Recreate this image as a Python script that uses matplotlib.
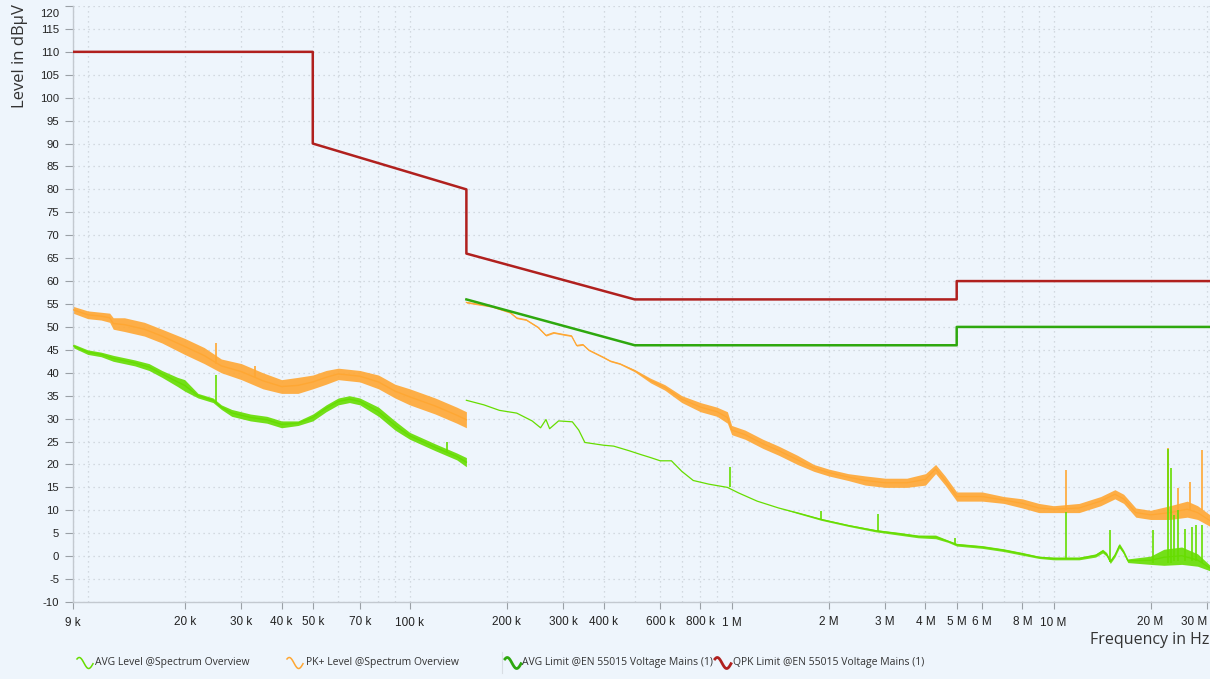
import numpy as np
import matplotlib
matplotlib.use("Agg")
import matplotlib.pyplot as plt
import matplotlib.transforms as mtransforms
from matplotlib.lines import Line2D

# ---------------- data ----------------
# PK+ level, band 1 (9 kHz .. 150 kHz): frequency [Hz], lower / upper edge of noise band [dBuV]
pk1_f  = [9e3, 10e3, 11e3, 11.7e3, 12e3, 13e3, 15e3, 17e3, 20e3, 23e3, 26e3, 30e3, 35e3, 40e3, 45e3,
          50e3, 55e3, 60e3, 70e3, 80e3, 90e3, 100e3, 120e3, 140e3, 150e3]
pk1_lo = [53.0, 51.8, 51.5, 51.0, 49.5, 49.0, 48.0, 46.5, 44.0, 42.0, 40.0, 38.5, 36.5, 35.5, 35.5,
          36.5, 37.5, 38.5, 38.0, 36.5, 34.5, 33.0, 31.0, 29.0, 28.0]
pk1_hi = [54.5, 53.5, 53.2, 53.0, 52.0, 52.0, 51.0, 49.5, 47.5, 45.5, 43.0, 42.0, 40.0, 38.5, 39.0,
          39.5, 40.5, 41.0, 40.5, 39.5, 37.5, 36.5, 34.5, 32.5, 31.5]

# AVG level, band 1
av1_f  = [9e3, 10e3, 11e3, 12e3, 14e3, 15.5e3, 17e3, 19e3, 20e3, 22e3, 24.5e3, 26e3, 28e3, 32e3, 36e3,
          40e3, 45e3, 50e3, 55e3, 60e3, 65e3, 70e3, 80e3, 90e3, 100e3, 120e3, 140e3, 150e3]
av1_lo = [45.5, 44.0, 43.5, 42.5, 41.5, 40.5, 39.0, 37.0, 36.0, 34.5, 33.5, 32.0, 30.5, 29.5, 29.0,
          28.0, 28.5, 29.5, 31.5, 33.0, 33.5, 33.0, 30.5, 27.5, 25.5, 23.0, 21.0, 19.5]
av1_hi = [46.3, 45.0, 44.5, 43.8, 42.8, 42.0, 40.5, 39.0, 38.5, 35.5, 34.5, 33.0, 32.0, 31.0, 30.5,
          29.5, 29.5, 31.0, 33.0, 34.5, 35.0, 34.5, 32.5, 29.5, 27.0, 24.5, 22.5, 21.5]

# PK+ level, band 2 (150 kHz .. 30 MHz)
pk2_f  = [150e3, 180e3, 205e3, 215e3, 230e3, 250e3, 265e3, 280e3, 300e3, 318e3, 330e3, 345e3, 360e3,
          400e3, 420e3, 450e3, 500e3, 560e3, 620e3, 700e3, 800e3, 900e3, 970e3, 1.0e6, 1.1e6, 1.25e6,
          1.4e6, 1.6e6, 1.8e6, 2.0e6, 2.3e6, 2.6e6, 3.0e6, 3.5e6, 4.0e6, 4.3e6, 4.6e6, 5.0e6, 6e6,
          7e6, 8e6, 9e6, 10e6, 12e6, 14e6, 15.5e6, 16.5e6, 18e6, 20e6, 23e6, 26e6, 28e6, 30.6e6]
pk2_lo = [55.2, 54.3, 53.0, 51.8, 51.4, 49.8, 48.0, 48.6, 48.2, 47.9, 45.8, 46.0, 44.8,
          43.2, 42.4, 41.8, 40.2, 37.8, 36.2, 33.5, 31.5, 30.5, 29.0, 26.5, 25.5, 23.5,
          22.0, 20.0, 18.5, 17.5, 16.5, 15.5, 15.0, 15.0, 15.5, 18.0, 15.5, 12.0, 12.0,
          11.5, 10.5, 9.5, 9.5, 9.5, 11.0, 12.5, 11.5, 8.5, 8.0, 8.0, 8.5, 8.0, 6.5]
pk2_hi = [55.5, 54.6, 53.3, 52.1, 51.7, 50.1, 48.3, 48.9, 48.5, 48.2, 46.1, 46.3, 45.1,
          43.5, 42.7, 42.1, 40.7, 38.8, 37.4, 35.0, 33.5, 32.5, 31.5, 28.5, 27.5, 25.5,
          24.0, 22.0, 20.0, 19.0, 18.0, 17.5, 17.0, 17.0, 18.0, 20.0, 17.5, 14.0, 14.0,
          13.0, 12.5, 11.5, 11.0, 11.5, 13.0, 14.5, 13.5, 10.5, 10.0, 11.0, 12.0, 11.0, 9.0]

# AVG level, band 2
av2_f  = [150e3, 170e3, 190e3, 215e3, 240e3, 255e3, 265e3, 272e3, 290e3, 320e3, 335e3, 350e3, 400e3,
          430e3, 480e3, 520e3, 560e3, 600e3, 650e3, 700e3, 760e3, 850e3, 970e3, 1.05e6, 1.2e6, 1.4e6,
          1.6e6, 1.9e6, 2.3e6, 2.8e6, 3.3e6, 3.8e6, 4.3e6, 4.7e6, 5.0e6, 6e6, 7e6, 8e6, 9e6, 10e6,
          12e6, 13.5e6, 14.2e6, 14.6e6, 15e6, 15.5e6, 16e6, 16.5e6, 17e6, 20e6, 22e6, 25e6, 28e6,
          30.6e6]
av2_lo = [34.0, 33.0, 31.8, 31.2, 29.5, 28.0, 29.8, 27.8, 29.5, 29.3, 27.5, 24.8, 24.2,
          24.0, 23.0, 22.2, 21.5, 20.8, 20.8, 18.5, 16.5, 15.7, 15.0, 13.8, 12.0, 10.5,
          9.3, 7.8, 6.5, 5.3, 4.6, 4.0, 3.8, 3.0, 2.2, 1.7, 1.0, 0.2, -0.5, -0.8,
          -0.8, -0.2, 0.7, 0.0, -1.6, -0.2, 1.8, 0.5, -1.4, -1.8, -2.0, -1.8, -2.2, -3.2]
av2_hi = [34.0, 33.0, 31.8, 31.2, 29.5, 28.0, 29.8, 27.8, 29.5, 29.3, 27.5, 24.8, 24.2,
          24.0, 23.0, 22.2, 21.5, 20.8, 20.8, 18.5, 16.5, 15.7, 15.0, 13.8, 12.0, 10.5,
          9.6, 8.2, 6.9, 5.8, 5.2, 4.6, 4.6, 3.5, 2.8, 2.3, 1.6, 0.8, 0.0, -0.2,
          -0.2, 0.5, 1.5, 0.8, -0.8, 0.6, 2.8, 1.3, -0.6, 0.0, 1.5, 2.0, 0.5, -2.0]

# narrow spikes: frequency [Hz], base, top [dBuV]
av_spk_f    = [25e3, 131e3, 0.99e6, 1.9e6, 2.84e6, 4.95e6, 10.9e6, 15.0e6, 20.4e6, 22.6e6, 23.2e6,
               23.7e6, 24.4e6, 25.5e6, 27.0e6, 27.7e6, 28.8e6]
av_spk_base = [33.5, 22.5, 15.0, 7.8, 5.5, 2.5, -0.5, -1.3, -1.5, -1.5, -1.5, -1.0, -1.0, -1.0,
               -1.0, -1.0, -1.5]
av_spk_top  = [39.5, 25.0, 19.4, 9.9, 9.3, 4.0, 9.6, 5.7, 5.7, 23.3, 19.3, 9.0, 10.1, 6.0,
               6.4, 6.8, 6.8]
pk_spk_f    = [25e3, 33e3, 10.9e6, 22.6e6, 24.4e6, 26.5e6, 28.8e6]
pk_spk_base = [42.0, 39.0, 10.0, 10.0, 10.0, 10.0, 10.0]
pk_spk_top  = [46.5, 41.5, 18.8, 23.6, 14.9, 16.2, 23.2]

# limit lines (EN 55015, voltage mains)
qpk_f = [9e3, 50e3, 50e3, 150e3, 150e3, 500e3, 5e6, 5e6, 30.6e6]
qpk_v = [110, 110, 90, 80, 66, 56, 56, 60, 60]
avl_f = [150e3, 500e3, 5e6, 5e6, 30.6e6]
avl_v = [56, 46, 46, 50, 50]

xtick_vals = [9e3, 20e3, 30e3, 40e3, 50e3, 70e3, 100e3, 200e3, 300e3, 400e3, 600e3, 800e3, 1e6,
              2e6, 3e6, 4e6, 5e6, 6e6, 8e6, 10e6, 20e6, 30e6]
xtick_labels = ["9 k", "20 k", "30 k", "40 k", "50 k", "70 k", "100 k", "200 k", "300 k", "400 k",
                "600 k", "800 k", "1 M", "2 M", "3 M", "4 M", "5 M", "6 M", "8 M", "10 M",
                "20 M", "30 M"]
ytick_vals = list(range(-10, 121, 5))

legend_labels = ["AVG Level @Spectrum Overview", "PK+ Level @Spectrum Overview",
                 "AVG Limit @EN 55015 Voltage Mains (1)", "QPK Limit @EN 55015 Voltage Mains (1)"]

# ---------------- style ----------------
BG = "#eef5fc"
C_AVG = "#66dd00"
C_PK = "#ffa733"
C_AVL = "#2ea80e"
C_QPK = "#b0201e"
GRID = "#c9d0d8"
TXT = "#222222"
UI_FONT = ["Open Sans", "DejaVu Sans"]
TICK_FONT = ["Liberation Sans", "DejaVu Sans"]

W, H = 1210, 679
fig = plt.figure(figsize=(W / 100, H / 100), dpi=100, facecolor=BG)
ax = fig.add_axes([73 / W, 1 - 602 / H, (1210 - 73) / W, (602 - 6) / H], facecolor=BG)
ax.set_xscale("log")
ax.set_xlim(9e3, 30.6e6)
ax.set_ylim(-10, 120)

# grid
gx = [m * 10 ** e for e in range(3, 8) for m in range(1, 10)]
gx = [g for g in gx if 9e3 <= g <= 30.6e6]
for g in gx:
    ax.axvline(g, color=GRID, lw=0.9, ls=(0, (1, 3)), zorder=0)
for v in ytick_vals:
    ax.axhline(v, color=GRID, lw=0.9, ls=(0, (1, 3)), zorder=0)

# measured data: noise band + centre trace
def band(f, lo, hi, color, lw):
    f = np.asarray(f); lo = np.asarray(lo); hi = np.asarray(hi)
    ax.fill_between(f, lo, hi, color=color, lw=0, alpha=0.9, zorder=2)
    ax.plot(f, (lo + hi) / 2, color=color, lw=lw, zorder=3)

band(pk1_f, pk1_lo, pk1_hi, C_PK, 1.0)
band(pk2_f, pk2_lo, pk2_hi, C_PK, 0.9)
band(av1_f, av1_lo, av1_hi, C_AVG, 1.0)
band(av2_f, av2_lo, av2_hi, C_AVG, 0.9)
ax.vlines(pk_spk_f, pk_spk_base, pk_spk_top, color=C_PK, lw=1.2, zorder=3)
ax.vlines(av_spk_f, av_spk_base, av_spk_top, color=C_AVG, lw=1.2, zorder=4)

# limit lines
ax.plot(avl_f, avl_v, color=C_AVL, lw=1.8, zorder=5)
ax.plot(qpk_f, qpk_v, color=C_QPK, lw=1.8, zorder=5)

# axes cosmetics
for s in ["top", "right"]:
    ax.spines[s].set_visible(False)
for s in ["left", "bottom"]:
    ax.spines[s].set_color("#c3c9d0")
    ax.spines[s].set_linewidth(1.0)
ax.set_yticks(ytick_vals)
ax.set_yticklabels([str(v) for v in ytick_vals], fontsize=8.2, color=TXT, family=TICK_FONT)
ax.tick_params(axis="y", length=6, width=0.8, color="#9aa0a6", pad=4)
for lab in ax.get_yticklabels():
    if lab.get_text() == "120":
        lab.set_transform(lab.get_transform() +
                          mtransforms.ScaledTranslation(0, -7 / 100, fig.dpi_scale_trans))
ax.set_xticks(xtick_vals)
ax.set_xticklabels(xtick_labels, fontsize=8.5, color=TXT, family=TICK_FONT)
ax.xaxis.set_minor_locator(matplotlib.ticker.NullLocator())
ax.tick_params(axis="x", length=5, width=0.8, color="#9aa0a6", pad=5)
for lab in ax.get_xticklabels():
    txt = lab.get_text()
    if txt == "30 M":
        lab.set_horizontalalignment("right")
    if txt in ("9 k", "100 k", "1 M", "10 M"):
        lab.set_transform(lab.get_transform() +
                          mtransforms.ScaledTranslation(0, -1.5 / 100, fig.dpi_scale_trans))

# axis titles
fig.text(20 / W, 1 - 4 / H, "Level in dB\u00b5V", rotation=90, ha="center", va="top",
         fontsize=12, color="#333333", family=UI_FONT)
fig.text(1209 / W, 1 - 640 / H, "Frequency in Hz", ha="right", va="center",
         fontsize=11.5, color="#333333", family=UI_FONT)

# legend (sine-wave icons)
t = np.linspace(0, 1, 40)
icon_x = [77, 287, 505, 715]
text_x = [95, 306, 522, 733]
icon_c = [C_AVG, C_PK, C_AVL, C_QPK]
icon_lw = [1.1, 1.1, 2.0, 2.0]
yc = 663
for ix, tx, c, lw, lab in zip(icon_x, text_x, icon_c, icon_lw, legend_labels):
    xs = (ix + 16 * t) / W
    ys = 1 - (yc - 5.5 * np.cos(2 * np.pi * (0.85 * t - 0.12))) / H
    fig.add_artist(Line2D(xs, ys, color=c, lw=lw))
    fig.text(tx / W, 1 - yc / H, lab, ha="left", va="center", fontsize=7.5, color="#333333",
             family=UI_FONT)
fig.add_artist(Line2D([502 / W, 502 / W], [1 - 652 / H, 1 - 673 / H], color="#d8dde3", lw=0.8))

fig.savefig("out.png", dpi=100, facecolor=BG)
